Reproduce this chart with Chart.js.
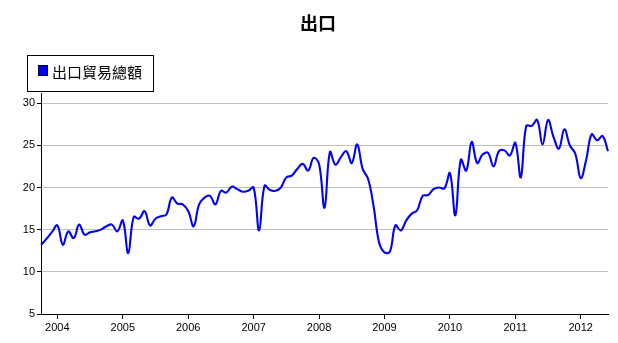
<!DOCTYPE html>
<html>
<head>
<meta charset="utf-8">
<script src="https://cdn.jsdelivr.net/npm/chart.js@4/dist/chart.umd.min.js"></script>
<style>
  html, body { margin: 0; padding: 0; background: #fff; }
  #wrap { position: relative; width: 618px; height: 343px; }
</style>
</head>
<body>
<div id="wrap"><canvas id="c" width="618" height="343"></canvas></div>
<script>
// monthly series, 2003-10 .. 2012-06
const chartTitle = '出口';
const seriesName = '出口貿易總額';
const startYear = 2003, startMonth = 10;
const exportsTotal = [
  13.2, 13.9, 14.7,
  15.5, 13.2, 14.8, 14.0, 15.6, 14.4, 14.7, 14.8, 15.0, 15.4, 15.6, 14.8,
  16.1, 12.2, 16.5, 16.3, 17.2, 15.5, 16.3, 16.6, 16.8, 18.8, 18.1, 18.0,
  17.2, 15.4, 18.0, 18.8, 19.0, 18.0, 19.6, 19.4, 20.1, 19.8, 19.5, 19.6,
  20.0, 14.9, 20.2, 19.7, 19.6, 20.0, 21.2, 21.4, 22.2, 22.8, 22.0, 23.5,
  22.8, 17.6, 24.2, 22.7, 23.6, 24.3, 22.9, 25.1, 22.2, 21.0, 17.8, 13.5,
  12.3, 12.4, 15.5, 14.9, 16.1, 16.9, 17.3, 19.0, 19.1, 19.8, 20.0, 19.9,
  21.7, 16.7, 23.3, 22.0, 25.4, 22.9, 23.9, 24.1, 22.5, 24.3, 24.4, 23.8,
  25.3, 21.2, 27.3, 27.3, 28.0, 25.1, 28.0, 26.0, 24.6, 26.9, 25.0, 24.0,
  21.1, 23.3, 26.3, 25.6, 26.1, 24.3
];
const yTicks = [5, 10, 15, 20, 25, 30];

const months = exportsTotal.map((_, i) => {
  const m = startMonth - 1 + i;
  return { y: startYear + Math.floor(m / 12), m: (m % 12) + 1 };
});
const labels = months.map(d => d.y + '-' + String(d.m).padStart(2, '0'));

const tickFont = { family: '"Liberation Sans", Arial, sans-serif', size: 11 };
const cjk = '"Noto Sans CJK TC", "Noto Sans CJK SC", sans-serif';

// title + boxed legend drawn on the canvas
const decor = {
  id: 'decor',
  afterDraw(chart) {
    const ctx = chart.ctx;
    ctx.save();
    ctx.fillStyle = '#000';
    ctx.font = '600 18px ' + cjk;
    ctx.textAlign = 'center';
    ctx.textBaseline = 'middle';
    ctx.fillText(chartTitle, 318, 23);

    ctx.strokeStyle = '#000';
    ctx.lineWidth = 1;
    ctx.strokeRect(27.5, 55.5, 126, 36);
    ctx.fillStyle = '#0000ff';
    ctx.fillRect(38, 65, 10, 11);
    ctx.strokeStyle = '#000033';
    ctx.strokeRect(38.5, 65.5, 9, 10);
    ctx.fillStyle = '#000';
    ctx.font = '15px ' + cjk;
    ctx.textAlign = 'left';
    ctx.fillText(chart.data.datasets[0].label, 52, 72);
    ctx.restore();
  }
};

new Chart(document.getElementById('c'), {
  type: 'line',
  data: {
    labels: labels,
    datasets: [{
      label: seriesName,
      data: exportsTotal,
      borderColor: '#0000ff',
      borderWidth: 2.1,
      pointRadius: 0,
      tension: 0.4,
      fill: false
    }]
  },
  options: {
    responsive: false,
    animation: false,
    layout: { padding: { top: 93, right: 10, left: 0, bottom: 0 } },
    plugins: { legend: { display: false }, title: { display: false }, tooltip: { enabled: false } },
    scales: {
      x: {
        type: 'category',
        offset: false,
        afterFit: s => { s.height = 29; },
        border: { display: true, color: '#000', width: 1 },
        grid: {
          drawOnChartArea: false,
          drawTicks: true,
          tickLength: 5,
          tickColor: c => (months[c.index] && months[c.index].m === 1) ? '#000' : 'rgba(0,0,0,0)'
        },
        ticks: {
          autoSkip: false,
          maxRotation: 0,
          padding: 2,
          color: '#000',
          font: tickFont,
          callback: (v, i) => months[i].m === 1 ? String(months[i].y) : ''
        }
      },
      y: {
        min: 5,
        max: 31.2,
        afterFit: s => { s.width = 41; },
        afterBuildTicks: s => { s.ticks = yTicks.map(v => ({ value: v })); },
        border: { display: true, color: '#000', width: 1 },
        grid: {
          color: c => c.tick && c.tick.value === 5 ? 'rgba(0,0,0,0)' : '#c0c0c0',
          tickColor: '#000',
          tickLength: 4,
          lineWidth: 1
        },
        ticks: { color: '#000', font: tickFont, padding: 2 }
      }
    }
  },
  plugins: [decor]
});
</script>
</body>
</html>
